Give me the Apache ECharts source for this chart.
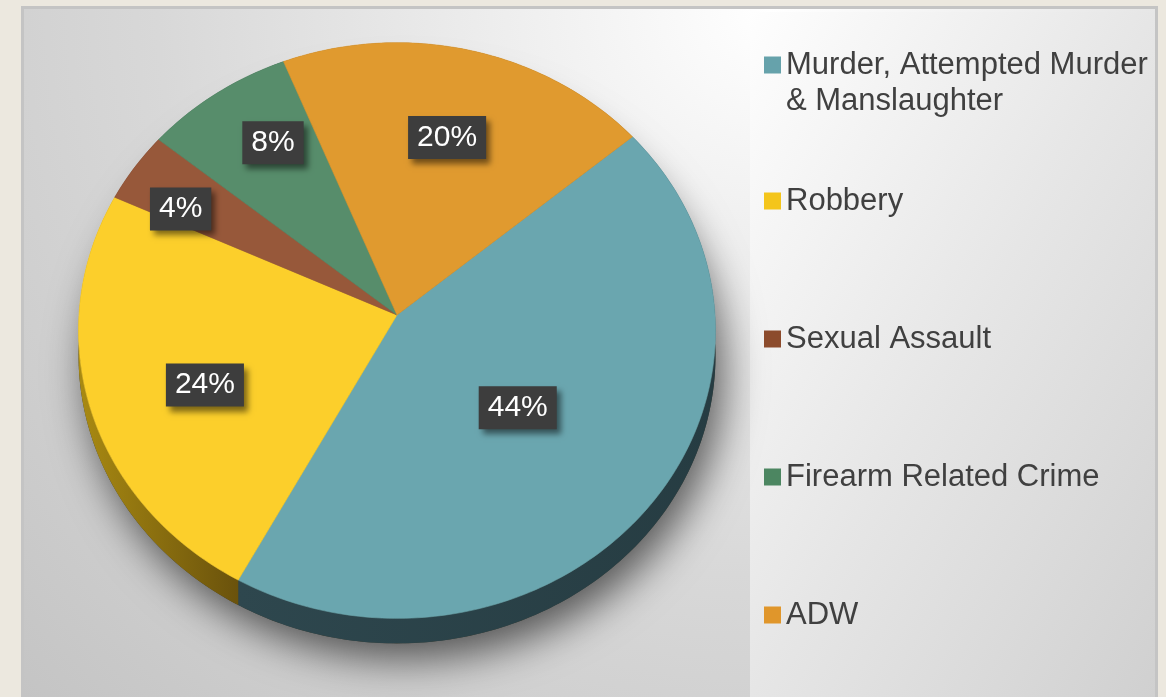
<!DOCTYPE html>
<html>
<head>
<meta charset="utf-8">
<title>Crime categories</title>
<script src="https://cdn.jsdelivr.net/npm/echarts/dist/echarts.min.js"></script>
<style>
  html, body { margin: 0; padding: 0; background: #ece8df; overflow: hidden; }
  #frame {
    position: absolute; left: 21px; top: 6px; width: 1131px; height: 691px;
    border: 3px solid #c4c4c4; border-bottom: none;
    background: radial-gradient(ellipse farthest-corner at 66% 0%, #ffffff 0%, #ececec 28%, #d8d8d8 58%, #c4c4c4 100%);
  }
  #legendBg {
    position: absolute; left: 750px; top: 12px; width: 405px; height: 685px;
    background: linear-gradient(to bottom right, #fefefe 0%, #e6e6e6 50%, #d0d0d0 100%);
  }
  #chart { position: absolute; left: 0; top: 0; width: 1166px; height: 697px; }
</style>
</head>
<body>
<div id="frame"></div>
<div id="legendBg"></div>
<div id="chart"></div>
<script>
  // data
  const categories = ['Murder, Attempted Murder & Manslaughter', 'Robbery', 'Sexual Assault', 'Firearm Related Crime', 'ADW']
  const values = [44, 24, 4, 8, 20]

  // styling
  const legendColors = ['#66a2ab', '#f4c51b', '#8c4b2c', '#4c8661', '#e0962b']
  const faceColors = ['#6aa6af', '#fccf2b', '#97583a', '#578d6b', '#e09a2f']
  const sideColors = [['#2e474e', '#263c42'], ['#a98a12', '#6a520c'], ['#5a3420', '#3e2314'], ['#34553f', '#253d2d'], ['#8a5c1a', '#6a4612']]
  const labelRadius = [0.49, 0.643, 0.79, 0.74, 0.66]
  const labelShift = [-1.2, 3.6, 3.5, -3.4, -0.3]   // small angular nudge of the label, degrees
  const legendTops = [11, 183, 321, 459, 597]

  const fontFamily = '"Liberation Sans", Arial, sans-serif'
  const total = values.reduce((a, b) => a + b, 0)
  const startAngle = 40

  // tilted pie: a circle seen with a little perspective
  const cx = 397, cy = 315, rx = 318, ry = 287, k = 0.054, depth = 25

  function project(deg, r) {
    const a = deg * Math.PI / 180
    const u = r * Math.cos(a), v = -r * Math.sin(a)
    const s = 1 - k * v
    return [cx + rx * u / s, cy + ry * v / s]
  }

  function arc(a0, a1) {
    const n = Math.max(2, Math.ceil(Math.abs(a0 - a1)))
    const pts = []
    for (let j = 0; j <= n; j++) {
      pts.push(project(a0 + (a1 - a0) * j / n, 1))
    }
    return pts
  }

  function sliceAngles(i) {
    let before = 0
    for (let j = 0; j < i; j++) before += values[j]
    const a0 = startAngle - before / total * 360
    const a1 = a0 - values[i] / total * 360
    return [a0, a1]
  }

  function renderSlice(i) {
    const [a0, a1] = sliceAngles(i)
    const rim = arc(a0, a1)
    const children = []

    if (i === 0) {
      // soft drop shadow below the whole pie
      const base = arc(startAngle, startAngle - 360).map(p => [p[0], p[1] + depth])
      children.push({
        type: 'polygon', z2: -1,
        shape: { points: base },
        style: { fill: '#3c3c30', shadowBlur: 40, shadowColor: 'rgba(0,0,0,0.6)', shadowOffsetX: 8, shadowOffsetY: 16 }
      })
    }

    const side = rim.concat(rim.slice().reverse().map(p => [p[0], p[1] + depth]))
    children.push({
      type: 'polygon', z2: 1,
      shape: { points: side },
      style: {
        fill: {
          type: 'linear', x: 0, y: 0, x2: 1, y2: 0,
          colorStops: [{ offset: 0, color: sideColors[i][0] }, { offset: 1, color: sideColors[i][1] }]
        }
      }
    })

    children.push({
      type: 'polygon', z2: 5,
      shape: { points: [[cx, cy]].concat(rim) },
      style: { fill: faceColors[i], stroke: faceColors[i], lineWidth: 0.6 }
    })

    const lp = project((a0 + a1) / 2 + labelShift[i], labelRadius[i])
    children.push({
      type: 'text', z2: 10,
      x: lp[0], y: lp[1],
      style: {
        text: Math.round(values[i] / total * 100) + '%',
        align: 'center',
        verticalAlign: 'middle',
        fill: '#ffffff',
        font: '30px ' + fontFamily,
        backgroundColor: '#3d3d3d',
        padding: [7, 9, 6, 9],
        shadowBlur: 6,
        shadowColor: 'rgba(0,0,0,0.5)',
        shadowOffsetX: 4,
        shadowOffsetY: 5
      }
    })

    return { type: 'group', children: children }
  }

  const chart = echarts.init(document.getElementById('chart'), null, { renderer: 'canvas' })

  const option = {
    animation: false,
    backgroundColor: 'transparent',
    textStyle: { fontFamily: fontFamily },
    legend: categories.map((name, i) => ({
      data: [name],
      left: 764,
      top: legendTops[i],
      orient: 'vertical',
      icon: 'rect',
      itemWidth: 17,
      itemHeight: 17,
      padding: 0,
      selectedMode: false,
      // the long name wraps; an empty first line keeps the marker level with its first text line
      formatter: i === 0 ? n => '\n' + n : n => n,
      textStyle: {
        fontFamily: fontFamily,
        fontSize: 31,
        color: '#404040',
        lineHeight: 36,
        width: 375,
        overflow: 'break'
      }
    })),
    series: categories.map((name, i) => ({
      type: 'custom',
      name: name,
      coordinateSystem: 'none',
      itemStyle: { color: legendColors[i] },
      renderItem: function () { return renderSlice(i) },
      data: [values[i]]
    }))
  }

  chart.setOption(option)
</script>
</body>
</html>
